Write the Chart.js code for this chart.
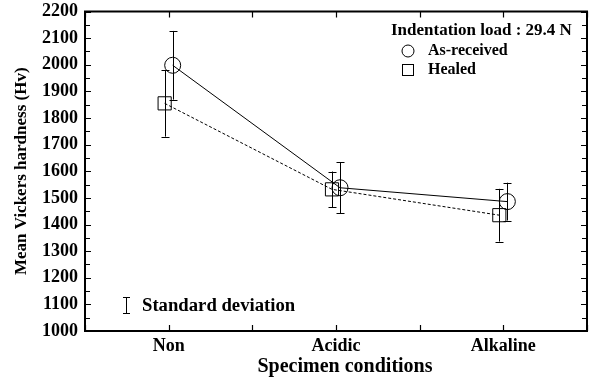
<!DOCTYPE html>
<html><head><meta charset="utf-8">
<script src="https://cdn.jsdelivr.net/npm/chart.js@4/dist/chart.umd.min.js"></script>
<style>html,body{margin:0;padding:0;background:#fff}#wrap{width:591px;height:388px;position:relative}</style>
</head><body><div id="wrap"><canvas id="c" width="591" height="388"></canvas></div>
<script>
// ---- data ----
const categories = ['Non', 'Acidic', 'Alkaline'];
const asReceived = [1998, 1538, 1486];
const asReceivedSD = [129, 95, 71];
const healed = [1855, 1532, 1435];
const healedSD = [125, 67, 99];
const yMin = 1000, yMax = 2200, yStep = 100;
const seriesNames = ['As-received', 'Healed'];
const legendTitle = 'Indentation load : 29.4 N';
const sdLabel = 'Standard deviation';
const xTitle = 'Specimen conditions';
const yTitle = 'Mean Vickers hardness (Hv)';

// ---- style ----
const FONT = '"Liberation Serif", "Times New Roman", serif';
const OFF = 0.024; // horizontal nudge (category units) to separate the two series

const ds = [
  { label: seriesNames[0], vals: asReceived, sd: asReceivedSD, off: OFF, style: 'circle', r: 8, dash: [] },
  { label: seriesNames[1], vals: healed, sd: healedSD, off: -OFF, style: 'rect', r: 9.3, dash: [3, 2] }
];

const errorAndFrame = {
  id: 'errorAndFrame',
  afterDatasetsDraw(chart) {
    const ctx = chart.ctx, xs = chart.scales.x, ys = chart.scales.y;
    ctx.save();
    ctx.strokeStyle = '#000'; ctx.lineWidth = 1;
    ds.forEach(d => {
      d.vals.forEach((v, j) => {
        const x = Math.round(xs.getPixelForValue(j + d.off)) + 0.5;
        const yt = ys.getPixelForValue(v + d.sd[j]);
        const yb = ys.getPixelForValue(v - d.sd[j]);
        ctx.beginPath();
        ctx.moveTo(x, yt); ctx.lineTo(x, yb);
        ctx.moveTo(x - 4, Math.round(yt) + 0.5); ctx.lineTo(x + 4, Math.round(yt) + 0.5);
        ctx.moveTo(x - 4, Math.round(yb) + 0.5); ctx.lineTo(x + 4, Math.round(yb) + 0.5);
        ctx.stroke();
      });
    });
    ctx.restore();
  },
  afterDraw(chart) {
    const ctx = chart.ctx, xs = chart.scales.x, ys = chart.scales.y;
    const a = chart.chartArea;
    ctx.save();
    ctx.strokeStyle = '#000';
    // frame
    ctx.lineWidth = 2;
    ctx.strokeRect(a.left, a.top, a.right - a.left, a.bottom - a.top);
    // ticks
    ctx.lineWidth = 1.2;
    ctx.beginPath();
    for (let v = yMin; v <= yMax; v += yStep / 2) {
      const y = Math.round(ys.getPixelForValue(v)) + 0.5;
      const len = (v % yStep === 0) ? 6 : 5;
      ctx.moveTo(a.left, y); ctx.lineTo(a.left + len, y);
      ctx.moveTo(a.right, y); ctx.lineTo(a.right - len, y);
    }
    for (let t = -0.5; t <= categories.length - 0.5 + 1e-9; t += 0.5) {
      const x = Math.round(xs.getPixelForValue(t)) + 0.5;
      ctx.moveTo(x, a.bottom); ctx.lineTo(x, a.bottom - 6);
      ctx.moveTo(x, a.top); ctx.lineTo(x, a.top + 6);
    }
    ctx.stroke();

    ctx.fillStyle = '#000';
    ctx.textBaseline = 'middle';
    // x-axis title
    ctx.textAlign = 'center';
    ctx.font = 'bold 20px ' + FONT;
    ctx.fillText(xTitle, 345, 367);

    // legend (top right)
    ctx.textAlign = 'left';
    ctx.font = 'bold 17px ' + FONT;
    ctx.fillText(legendTitle, 391, 31);
    ctx.font = 'bold 16px ' + FONT;
    ctx.lineWidth = 1;
    ctx.beginPath(); ctx.arc(408, 51, 6, 0, Math.PI * 2); ctx.stroke();
    ctx.fillText(seriesNames[0], 428, 51);
    ctx.strokeRect(402.5, 64.5, 11, 11);
    ctx.fillText(seriesNames[1], 428, 70);

    // standard deviation key
    ctx.beginPath();
    ctx.moveTo(126.5, 297); ctx.lineTo(126.5, 314);
    ctx.moveTo(123, 297.5); ctx.lineTo(130, 297.5);
    ctx.moveTo(123, 313.5); ctx.lineTo(130, 313.5);
    ctx.stroke();
    ctx.font = 'bold 18.7px ' + FONT;
    ctx.fillText(sdLabel, 142, 306);
    ctx.restore();
  }
};

new Chart(document.getElementById('c'), {
  type: 'line',
  data: {
    datasets: ds.map(d => ({
      label: d.label,
      data: d.vals.map((v, j) => ({ x: j + d.off, y: v })),
      borderColor: '#000',
      borderWidth: 1,
      borderDash: d.dash,
      backgroundColor: 'rgba(0,0,0,0)',
      pointStyle: d.style,
      pointRadius: d.r,
      pointBorderColor: '#000',
      pointBorderWidth: 1,
      pointBackgroundColor: 'rgba(0,0,0,0)',
      tension: 0,
      fill: false,
      clip: false
    }))
  },
  options: {
    responsive: false,
    animation: false,
    devicePixelRatio: 1,
    layout: { autoPadding: false, padding: { top: 11.5, right: 4, left: 0, bottom: 0 } },
    plugins: { legend: { display: false }, tooltip: { enabled: false } },
    scales: {
      x: {
        type: 'linear',
        min: -0.5, max: categories.length - 0.5,
        grid: { display: false, drawTicks: false },
        border: { display: false },
        afterFit(s) { s.height = 57; s.paddingLeft = 0; s.paddingRight = 0; },
        ticks: {
          stepSize: 0.5, autoSkip: false, maxRotation: 0, padding: 5,
          color: '#000', font: { family: FONT, size: 18, weight: 'bold', lineHeight: 1.2 },
          callback(v) { return Number.isInteger(v) ? categories[v] : ''; }
        },
        title: { display: false, text: xTitle }
      },
      y: {
        min: yMin, max: yMax,
        grid: { display: false, drawTicks: false },
        border: { display: false },
        afterFit(s) { s.width = 85; s.paddingTop = 0; s.paddingBottom = 0; },
        ticks: {
          stepSize: yStep, padding: 7, color: '#000',
          font: { family: FONT, size: 18, weight: 'bold', lineHeight: 1.2 },
          callback(v) { return String(v); }
        },
        title: {
          display: true, text: yTitle, color: '#000',
          font: { family: FONT, size: 17, weight: 'bold', lineHeight: 1.2 },
          padding: { top: 11, bottom: 0 }
        }
      }
    }
  },
  plugins: [errorAndFrame]
});
</script></body></html>
